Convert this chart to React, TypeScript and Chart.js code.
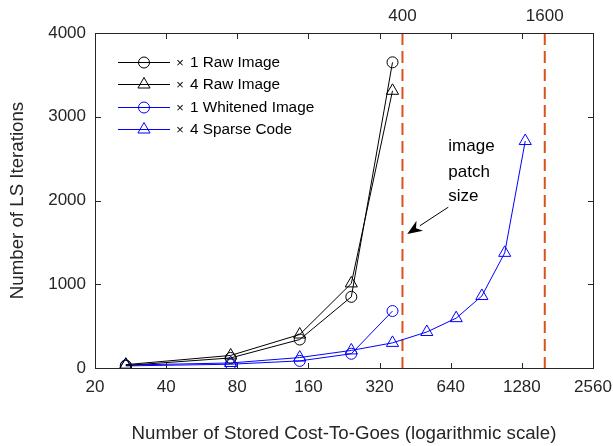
import React, { useEffect, useRef } from 'react';
import { Chart, registerables } from 'chart.js';
Chart.register(...registerables);

// ---- data ----
const xTicks = [20, 40, 80, 160, 320, 640, 1280, 2560];
const topTicks = [400, 1600];
const yTicks = [0, 1000, 2000, 3000, 4000];

const rawX = [27, 75, 147, 243, 363];
const raw1 = [30, 120, 340, 850, 3650];
const raw4 = [40, 150, 400, 1010, 3310];
const white1 = [25, 45, 85, 170, 680];
const sparseX = [27, 75, 147, 243, 363, 507, 675, 867, 1083, 1323];
const sparse4 = [35, 60, 125, 210, 300, 430, 595, 860, 1375, 2710];

const seriesLabels = ['1 Raw Image', '4 Raw Image', '1 Whitened Image', '4 Sparse Code'];
const patchSizes = [400, 1600];
const annotationLines = ['image', 'patch', 'size'];
const annotationTextX = 625;
const annotationTextY = [2650, 2340, 2050];
const arrowFrom = { x: 625, y: 1920 };
const arrowTo = { x: 419, y: 1600 };

const FONT = "'Liberation Sans', Arial, Helvetica, sans-serif";
const AXIS = '#262626';
const RED = '#D95319';
const BLUE = '#0000FF';
const BLACK = '#000000';

const seriesDefs = [
  { label: seriesLabels[0], xs: rawX, ys: raw1, color: BLACK, style: 'circle' },
  { label: seriesLabels[1], xs: rawX, ys: raw4, color: BLACK, style: 'triangle' },
  { label: seriesLabels[2], xs: rawX, ys: white1, color: BLUE, style: 'circle' },
  { label: seriesLabels[3], xs: sparseX, ys: sparse4, color: BLUE, style: 'triangle' },
];

function drawMarker(ctx: CanvasRenderingContext2D, style: string, x: number, y: number, color: string) {
  ctx.save();
  ctx.strokeStyle = color;
  ctx.lineWidth = 1;
  ctx.beginPath();
  if (style === 'circle') {
    ctx.arc(x, y, 5.5, 0, Math.PI * 2);
  } else {
    const r = 7;
    let rad = 0;
    const w = r;
    ctx.moveTo(x + Math.sin(rad) * w, y - Math.cos(rad) * r);
    rad += (2 * Math.PI) / 3;
    ctx.lineTo(x + Math.sin(rad) * w, y - Math.cos(rad) * r);
    rad += (2 * Math.PI) / 3;
    ctx.lineTo(x + Math.sin(rad) * w, y - Math.cos(rad) * r);
    ctx.closePath();
  }
  ctx.stroke();
  ctx.restore();
}

const overlay = {
  id: 'overlay',
  afterDraw(chart: any) {
    const { ctx, chartArea: a, scales } = chart;
    const xs = scales.x;
    const ys = scales.y;
    ctx.save();
    // box
    ctx.strokeStyle = AXIS;
    ctx.lineWidth = 1;
    ctx.strokeRect(a.left + 0.5, a.top + 0.5, a.right - a.left, a.bottom - a.top);
    // inward ticks
    ctx.beginPath();
    xTicks.slice(1, -1).forEach((v) => {
      const px = Math.round(xs.getPixelForValue(v)) + 0.5;
      ctx.moveTo(px, a.bottom + 0.5);
      ctx.lineTo(px, a.bottom - 5);
      ctx.moveTo(px, a.top + 0.5);
      ctx.lineTo(px, a.top + 6);
    });
    yTicks.slice(1, -1).forEach((v) => {
      const py = Math.round(ys.getPixelForValue(v)) + 0.5;
      ctx.moveTo(a.left + 0.5, py);
      ctx.lineTo(a.left + 6, py);
      ctx.moveTo(a.right + 0.5, py);
      ctx.lineTo(a.right - 5, py);
    });
    ctx.stroke();

    // legend
    const rowY = [62, 84, 107, 129];
    seriesDefs.forEach((s, i) => {
      const y = rowY[i] + 0.5;
      ctx.strokeStyle = s.color;
      ctx.lineWidth = 1;
      ctx.beginPath();
      ctx.moveTo(118, y);
      ctx.lineTo(170, y);
      ctx.stroke();
      drawMarker(ctx, s.style, 144, y, s.color);
      ctx.fillStyle = '#000';
      ctx.textBaseline = 'middle';
      ctx.textAlign = 'center';
      ctx.font = `13px ${FONT}`;
      ctx.fillText('\u00D7', 180, y + 1);
      ctx.textAlign = 'left';
      ctx.font = `15.3px ${FONT}`;
      ctx.fillText(s.label, 190, y);
    });

    // annotation
    ctx.fillStyle = '#000';
    ctx.font = `17px ${FONT}`;
    ctx.textAlign = 'left';
    ctx.textBaseline = 'middle';
    const tx = xs.getPixelForValue(annotationTextX);
    annotationLines.forEach((t, i) => {
      ctx.fillText(t, tx, ys.getPixelForValue(annotationTextY[i]));
    });
    const x0 = xs.getPixelForValue(arrowFrom.x);
    const y0 = ys.getPixelForValue(arrowFrom.y);
    const x1 = xs.getPixelForValue(arrowTo.x);
    const y1 = ys.getPixelForValue(arrowTo.y);
    const ang = Math.atan2(y1 - y0, x1 - x0);
    const hl = 15;
    const hw = 6;
    const bx = x1 - Math.cos(ang) * hl;
    const by = y1 - Math.sin(ang) * hl;
    ctx.strokeStyle = '#000';
    ctx.lineWidth = 1;
    ctx.beginPath();
    ctx.moveTo(x0, y0);
    ctx.lineTo(bx, by);
    ctx.stroke();
    ctx.beginPath();
    ctx.moveTo(x1, y1);
    ctx.lineTo(bx + Math.sin(ang) * hw, by - Math.cos(ang) * hw);
    ctx.lineTo(x1 - Math.cos(ang) * hl * 0.7, y1 - Math.sin(ang) * hl * 0.7);
    ctx.lineTo(bx - Math.sin(ang) * hw, by + Math.cos(ang) * hw);
    ctx.closePath();
    ctx.fill();
    ctx.restore();
  },
};

export default function App() {
  const ref = useRef<HTMLCanvasElement>(null);
  useEffect(() => {
    document.body.style.margin = '0';
    const canvas = ref.current!;
    const datasets: any[] = [
      ...seriesDefs.map((s) => ({
        label: s.label,
        data: s.xs.map((x, i) => ({ x, y: s.ys[i] })),
        borderColor: s.color,
        backgroundColor: 'rgba(0,0,0,0)',
        borderWidth: 1,
        pointStyle: s.style,
        pointRadius: s.style === 'circle' ? 5.5 : 7,
        pointBorderColor: s.color,
        pointBackgroundColor: 'rgba(0,0,0,0)',
        pointBorderWidth: 1,
        tension: 0,
        fill: false,
      })),
      ...patchSizes.map((p) => ({
        label: `patch ${p}`,
        data: [
          { x: p, y: 4000 },
          { x: p, y: 0 },
        ],
        borderColor: RED,
        borderWidth: 2,
        borderDash: [12, 6],
        pointRadius: 0,
        fill: false,
      })),
    ];
    const tickFont = { family: FONT, size: 17 };
    const titleFont = { family: FONT, size: 18.7 };
    const chart = new Chart(canvas, {
      type: 'line',
      data: { datasets },
      plugins: [overlay],
      options: {
        responsive: false,
        animation: false,
        events: [],
        layout: { padding: { left: 0, right: 20, top: 0, bottom: 0 } },
        plugins: { legend: { display: false }, tooltip: { enabled: false } },
        scales: {
          x: {
            type: 'logarithmic',
            position: 'bottom',
            min: 20,
            max: 2560,
            afterBuildTicks: (s: any) => {
              s.ticks = xTicks.map((v) => ({ value: v }));
            },
            ticks: {
              font: tickFont,
              color: AXIS,
              padding: 9,
              maxRotation: 0,
              autoSkip: false,
              callback: (v: any) => String(v),
            },
            grid: { display: false, drawTicks: false },
            border: { display: false },
            title: {
              display: true,
              text: 'Number of Stored Cost-To-Goes (logarithmic scale)',
              font: titleFont,
              color: AXIS,
              padding: { top: 0, bottom: 1 },
            },
            afterFit: (s: any) => {
              s.height = 78;
              s.paddingLeft = 0;
              s.paddingRight = 0;
            },
          },
          x2: {
            type: 'logarithmic',
            position: 'top',
            min: 20,
            max: 2560,
            afterBuildTicks: (s: any) => {
              s.ticks = topTicks.map((v) => ({ value: v }));
            },
            ticks: {
              font: tickFont,
              color: AXIS,
              padding: 6,
              maxRotation: 0,
              autoSkip: false,
              callback: (v: any) => String(v),
            },
            grid: { display: false, drawTicks: false },
            border: { display: false },
            afterFit: (s: any) => {
              s.height = 33;
              s.paddingLeft = 0;
              s.paddingRight = 0;
            },
          },
          y: {
            type: 'linear',
            min: 0,
            max: 4000,
            afterBuildTicks: (s: any) => {
              s.ticks = yTicks.map((v) => ({ value: v }));
            },
            ticks: { font: tickFont, color: AXIS, padding: 9, callback: (v: any) => String(v) },
            grid: { display: false, drawTicks: false },
            border: { display: false },
            title: {
              display: true,
              text: 'Number of LS Iterations',
              font: titleFont,
              color: AXIS,
              padding: { top: 7, bottom: 0 },
            },
            afterFit: (s: any) => {
              s.width = 95;
              s.paddingTop = 0;
              s.paddingBottom = 0;
            },
          },
        },
      } as any,
    });
    return () => chart.destroy();
  }, []);
  return (
    <div style={{ width: 613, height: 446 }}>
      <canvas ref={ref} width={613} height={446} style={{ display: 'block' }} />
    </div>
  );
}
